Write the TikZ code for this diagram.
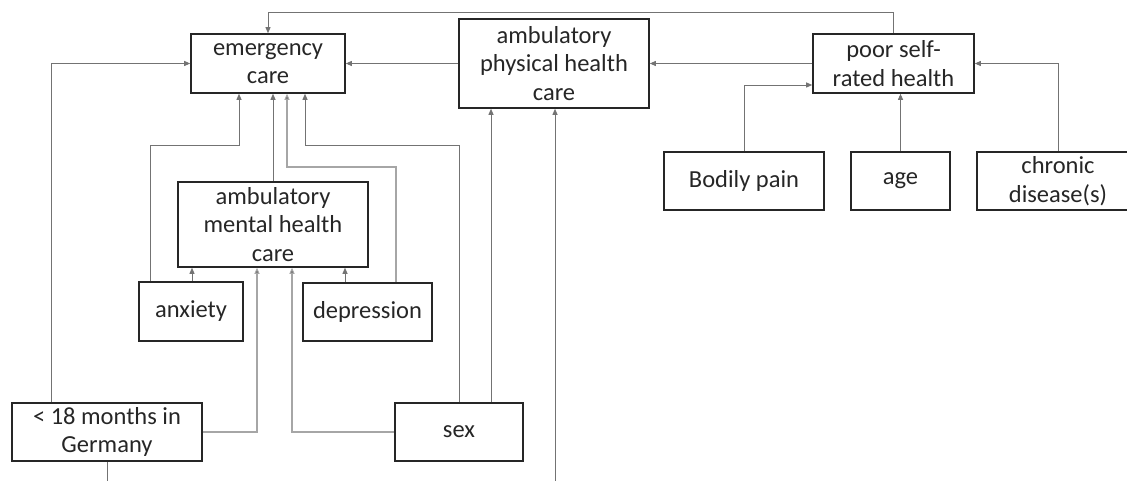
\documentclass[tikz,border=0pt]{standalone}
\usepackage{fontspec}
\setmainfont{Carlito}
\usetikzlibrary{arrows.meta}
\begin{document}
\begin{tikzpicture}[x=1pt,y=-1pt,
  box/.style={draw=black!85,line width=1.6pt,rectangle,align=center,inner sep=0pt,
    font=\fontsize{24.5}{28.5}\selectfont,text=black!85},
  conn/.style={draw=black!55,line width=0.9pt,-{Triangle[length=6pt,width=5pt]}},
  connl/.style={draw=black!35,line width=1.1pt,-{Triangle[length=6pt,width=5pt,fill=black!70]}},
  plain/.style={draw=black!55,line width=0.9pt}]
\useasboundingbox (0,0) rectangle (1127,481);
\node[box,minimum width=154pt,minimum height=59pt] (em) at (268,63.5) {emergency\\care};
\node[box,minimum width=190pt,minimum height=89pt] (amp) at (554,63.5) {ambulatory\\physical health\\care};
\node[box,minimum width=161pt,minimum height=59pt] (psr) at (893.5,63.5) {poor self-\\rated health};
\node[box,minimum width=160pt,minimum height=58pt] (bp) at (744,181) {Bodily pain};
\node[box,minimum width=99pt,minimum height=58pt] (age) at (900.5,181) {age};
\node[box,minimum width=162pt,minimum height=58pt] (chr) at (1058,181) {chronic\\disease(s)};
\node[box,minimum width=190pt,minimum height=85pt] (amh) at (273,224.5) {ambulatory\\mental health\\care};
\node[box,minimum width=104pt,minimum height=59pt] (anx) at (191,311.5) {anxiety};
\node[box,minimum width=129pt,minimum height=58pt] (dep) at (367.5,312) {depression};
\node[box,minimum width=190pt,minimum height=58pt] (m18) at (107,432) {< 18 months in\\Germany};
\node[box,minimum width=128pt,minimum height=58pt] (sex) at (459,432) {sex};
\coordinate (b18) at (107,481);
\coordinate (b555) at (555,481);
% top loop
\draw[conn] (psr.north) -- (893.5,12) -| (em.north);
% horizontal chain
\draw[conn] (psr.west) -- (amp.east);
\draw[conn] (amp.west) -- (em.east);
% into poor self-rated health
\draw[conn] (bp.north) |- (psr.west |- 0,85);
\draw[conn] (age.north) -- (age.north |- psr.south);
\draw[conn] (chr.north) |- (psr.east);
% < 18 months
\draw[conn] (m18.north -| 51,0) |- (em.west);
\draw[connl] (m18.east) -| (amh.south -| 257,0);
\draw[plain] (b18) -- (m18.south);
% sex
\draw[conn] (sex.north) |- (305,145) -- (em.south -| 305,0);
\draw[connl] (sex.west) -| (amh.south -| 292,0);
\draw[conn] (sex.north -| 491,0) -- (amp.south -| 491,0);
\draw[conn] (b555) -- (amp.south -| 555,0);
% anxiety / depression
\draw[conn] (anx.north -| 150,0) |- (239,145) -- (em.south -| 239,0);
\draw[conn] (anx.north -| 192,0) -- (amh.south -| 192,0);
\draw[connl] (dep.north -| 396,0) |- (287,167) -- (em.south -| 287,0);
\draw[conn] (dep.north -| 345,0) -- (amh.south -| 345,0);
% mental -> emergency
\draw[conn] (amh.north) -- (em.south -| amh.north);
\end{tikzpicture}
\end{document}
